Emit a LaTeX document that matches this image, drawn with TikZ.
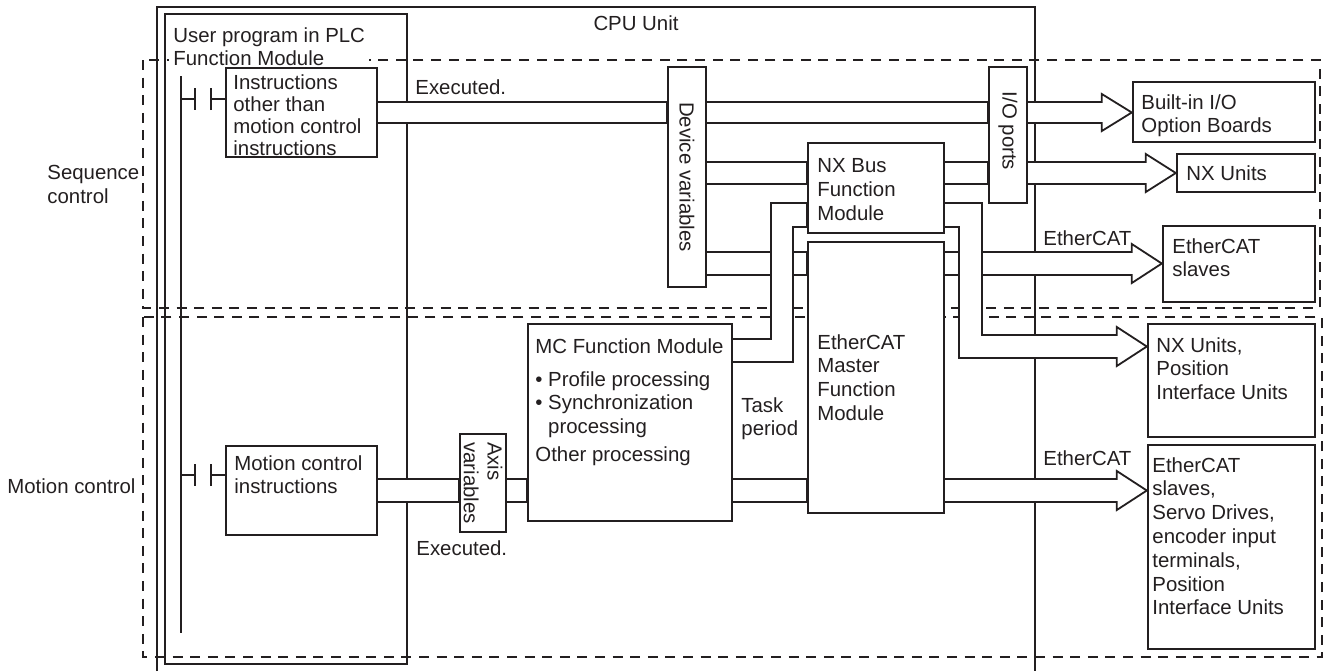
\documentclass[tikz,border=0pt]{standalone}
\usepackage{fontspec}
\setmainfont{Liberation Sans}
\usetikzlibrary{fit,calc}
\definecolor{ink}{RGB}{35,31,32}
\pgfdeclarelayer{bg}
\pgfdeclarelayer{bands}
\pgfsetlayers{bg,bands,main}
\tikzset{
  box/.style={draw=ink, line width=1.2pt, fill=white, inner sep=0pt},
  frame/.style={draw=ink, line width=1pt, inner sep=0pt},
  region/.style={draw=ink, line width=0.8pt, dash pattern=on 5pt off 3.8pt},
  wire/.style={draw=ink, line width=0.9pt},
  band/.style={wire, fill=white},
  rail/.style={draw=ink, line width=1.1pt},
  txt/.style={anchor=north west, align=left, inner sep=0pt, text=ink},
  vtxt/.style={rotate=-90, align=left, inner sep=0pt, text=ink},
  bandhead/.style n args={3}{insert path={-- ($(#1.west |- #2)+(-15pt,0)$) -- ++(0,4pt)
      -- ($(#1.west |- #2)!.5!(#1.west |- #3)$) -- ($(#1.west |- #3)+(-15pt,-4pt)$) -- ++(0,4pt)}}
}
\begin{document}
\begin{tikzpicture}[x=0.5pt, y=-0.5pt, font=\fontsize{10.2}{11.9}\selectfont]
\useasboundingbox (0,0) rectangle (1327,671);

% levels of the double lines
\coordinate (execA) at (0,102);
\coordinate (execB) at (0,123);
\coordinate (nxA) at (0,162);
\coordinate (nxB) at (0,184);
\coordinate (busA) at (0,203);
\coordinate (busB) at (0,227);
\coordinate (ecA) at (0,252);
\coordinate (ecB) at (0,275);
\coordinate (posA) at (0,335);
\coordinate (posB) at (0,358);
\coordinate (mcA) at (0,339);
\coordinate (mcB) at (0,362);
\coordinate (mvA) at (0,479);
\coordinate (mvB) at (0,502);
\coordinate (mcupA) at (771,0);
\coordinate (mcupB) at (793,0);
\coordinate (nxdownA) at (982,0);
\coordinate (nxdownB) at (959,0);
\coordinate (seqc) at (181,99);
\coordinate (motc) at (181,475);

% frames and regions
\begin{pgfonlayer}{bg}
  \draw[region] (143,60) rectangle (1320,308);
  \draw[region] (143,317) rectangle (1322,657);
  \draw[frame] (157,671) |- (1035,7) -- (1035,671);
  \node[frame, fit={(165,14) (407,664)}] (userprog) {};
\end{pgfonlayer}

\node[anchor=north, inner sep=0pt, text=ink] (cputxt) at (636,15) {CPU Unit};
\node[txt, fill=white, inner xsep=2pt, inner ysep=1pt] (usertxt) at (169,25) {User program in PLC\\Function Module};
\node[txt] (seqtxt) at (47,165) {Sequence\\control};
\node[txt] (mottxt) at (7,478) {Motion control};

% ladder
\draw[rail] (181,76) -- (181,633);

% boxes
\node[box, fit={(226,68) (377,157)}] (instr) {};
\node[box, fit={(668,67) (706,287)}] (devvar) {};
\node[box, fit={(989,67) (1027,203)}] (ioport) {};
\node[box, fit={(808,143) (944,233)}] (nxbus) {};
\node[box, fit={(808,242) (944,513)}] (ecmaster) {};
\node[box, fit={(528,324) (732,521)}] (mc) {};
\node[box, fit={(460,434) (506,532)}] (axisvar) {};
\node[box, fit={(226,446) (377,535)}] (motion) {};
\node[box, fit={(1133,82) (1315,142)}] (builtin) {};
\node[box, fit={(1177,154) (1315,192)}] (nxunits) {};
\node[box, fit={(1163,226) (1315,302)}] (ecslaves) {};
\node[box, fit={(1148,324) (1315,437)}] (nxpos) {};
\node[box, fit={(1148,445) (1315,649)}] (ecservo) {};

\draw[wire] (seqc) -- ++(7pt,0) ++(0,5.5pt) -- ++(0,-11pt) ++(8pt,0) -- ++(0,11pt) ++(0,-5.5pt) -- (instr.west |- seqc);
\draw[wire] (motc) -- ++(7pt,0) ++(0,5.5pt) -- ++(0,-11pt) ++(8pt,0) -- ++(0,11pt) ++(0,-5.5pt) -- (motion.west |- motc);

% texts
\node[txt, font=\fontsize{10.2}{11}\selectfont] (instrtxt) at (233,74) {Instructions\\other than\\motion control\\instructions};
\node[vtxt] (devvartxt) at (devvar) {Device variables};
\node[vtxt] (iotxt) at ([yshift=2pt]ioport.center) {I/O ports};
\node[txt] (nxbustxt) at (817,158) {NX Bus\\Function\\Module};
\node[txt] (ecmtxt) at (817,334) {EtherCAT\\Master\\Function\\Module};
\node[txt] (mctxt) at (535,338) {MC Function Module\\[4.6pt]
  \textbullet\ Profile processing\\
  \textbullet\ Synchronization\\
  \phantom{\textbullet\ }processing\\[2.2pt]
  Other processing};
\node[vtxt] (axistxt) at (axisvar) {Axis\\variables};
\node[txt] (motiontxt) at (234,455) {Motion control\\instructions};
\node[txt] (builtintxt) at (1141,94) {Built-in I/O\\Option Boards};
\node[txt] (nxunitstxt) at (1186,165) {NX Units};
\node[txt] (ecslavestxt) at (1172,238) {EtherCAT\\slaves};
\node[txt] (nxpostxt) at (1156,337) {NX Units,\\Position\\Interface Units};
\node[txt] (ecservotxt) at (1152,457) {EtherCAT\\slaves,\\Servo Drives,\\encoder input\\terminals,\\Position\\Interface Units};
\node[txt] (exectop) at (415,79) {Executed.};
\node[txt] (execlow) at (416,540) {Executed.};
\node[txt] (tasktxt) at (741,397) {Task\\period};
\node[txt] (ecuptxt) at (1043,230) {EtherCAT};
\node[txt] (eclowtxt) at (1043,450) {EtherCAT};

% double lines
\begin{pgfonlayer}{bands}
  \draw[band] (instr.east |- execA) -- (devvar.west |- execA) -- (devvar.west |- execB) -- (instr.east |- execB);
  \draw[band] (devvar.east |- execA) -- (ioport.west |- execA) -- (ioport.west |- execB) -- (devvar.east |- execB);
  \draw[band] (ioport.east |- execA) [bandhead={builtin}{execA}{execB}] -- (ioport.east |- execB);
  \draw[band] (devvar.east |- nxA) -- (nxbus.west |- nxA) -- (nxbus.west |- nxB) -- (devvar.east |- nxB);
  \draw[band] (nxbus.east |- nxA) -- (ioport.west |- nxA) -- (ioport.west |- nxB) -- (nxbus.east |- nxB);
  \draw[band] (ioport.east |- nxA) [bandhead={nxunits}{nxA}{nxB}] -- (ioport.east |- nxB);
  \draw[band] (devvar.east |- ecA) -- (ecmaster.west |- ecA) -- (ecmaster.west |- ecB) -- (devvar.east |- ecB);
  \draw[band] (ecmaster.east |- ecA) [bandhead={ecslaves}{ecA}{ecB}] -- (ecmaster.east |- ecB);
  \draw[band] (motion.east |- mvA) -- (axisvar.west |- mvA) -- (axisvar.west |- mvB) -- (motion.east |- mvB);
  \draw[band] (axisvar.east |- mvA) -- (mc.west |- mvA) -- (mc.west |- mvB) -- (axisvar.east |- mvB);
  \draw[band] (mc.east |- mvA) -- (ecmaster.west |- mvA) -- (ecmaster.west |- mvB) -- (mc.east |- mvB);
  \draw[band] (ecmaster.east |- mvA) [bandhead={ecservo}{mvA}{mvB}] -- (ecmaster.east |- mvB);
  \draw[band] (mc.east |- mcA) -| (mcupA |- busA) -- (nxbus.west |- busA) -- (nxbus.west |- busB) -- (mcupB |- busB) |- (mc.east |- mcB);
  \draw[band] (nxbus.east |- busA) -| (nxdownA |- posA) [bandhead={nxpos}{posA}{posB}] -| (nxdownB |- busB) -- (nxbus.east |- busB);
\end{pgfonlayer}
\end{tikzpicture}
\end{document}
